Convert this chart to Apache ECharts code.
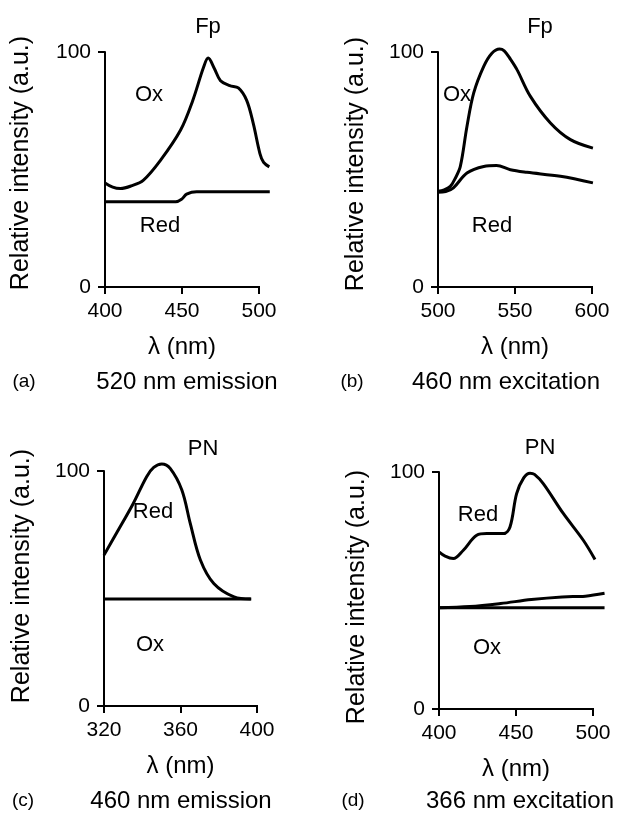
<!DOCTYPE html>
<html><head><meta charset="utf-8">
<script src="https://cdn.jsdelivr.net/npm/echarts@6/dist/echarts.min.js"></script>
<style>html,body{margin:0;padding:0;background:#fff}#c{width:619px;height:823px}</style>
</head><body><div id="c"></div>
<script>
// Panel (a): Fp, 520 nm emission
const aOx = [[400,44.3],[405,42.5],[410,41.9],[417,43],[425,45.5],[436,53.9],[449,66.7],[457,79.4],[464,93.5],[467,97.4],[471,93],[475,87.8],[481,85.7],[486.6,84.7],[492,79.4],[496.3,69.5],[500.6,56.8],[503,53],[506.7,51.1]];
const aRed = [[400,36.3],[446,36.3],[450,37.5],[453,39.5],[459.5,40.5],[507,40.5]];
// Panel (b): Fp, 460 nm excitation
const bOx = [[500,40.7],[504,41.3],[508,42.8],[511,46],[514.5,51.3],[518.8,68.3],[523.2,82.6],[529.7,93.9],[535,99.5],[540,101.3],[543,100.5],[547,97],[551.3,92.5],[560,81.1],[573,69.8],[586,62.7],[600.6,59.1]];
const bRed = [[500,40.3],[505,40.6],[510,42.2],[518.8,48.5],[529.7,51.3],[538,51.7],[547,49.9],[557.8,48.8],[579.5,47.1],[600.6,44.3]];
// Panel (c): PN, 460 nm emission
const cRed = [[320,64.2],[326.5,73.5],[335.3,86.2],[342.3,97.6],[346,101.5],[350.2,103],[354.6,101.1],[360.7,91.9],[365.1,77.7],[370.4,62.1],[377.4,52.1],[388,46.4],[396.7,45.5]];
const cOx = [[320,45.5],[397,45.5]];
// Panel (d): PN, 366 nm excitation
const dRed = [[400,66.3],[404,64.5],[409.3,63.5],[415.8,67],[424.5,73.3],[431,74],[441.8,74],[446.1,76.8],[450.4,90.9],[455,97.5],[459.1,99.5],[462,99],[467.7,95.1],[480.7,82.5],[493.7,71.2],[501.3,63.1]];
const dOx = [[400,42.7],[507.5,42.7]];
const dOx2 = [[400,42.7],[420,43.2],[440,44.5],[460,46.2],[480,47.3],[495,47.6],[507.5,48.8]];

// x tick values per panel, and the data extent each x axis must cover
const xTicks = [[400,450,500],[500,550,600],[320,360,400],[400,450,500]];
const xDataMax = [508,601,400,508];
const yTicks = [0,100];
const titles = ['Fp','Fp','PN','PN'];
const letters = ['(a)','(b)','(c)','(d)'];
const captions = ['520 nm emission','460 nm excitation','460 nm emission','366 nm excitation'];
const xName = 'λ (nm)';
const yName = 'Relative intensity (a.u.)';

const FONT = '"Liberation Sans", Arial, Helvetica, sans-serif';
// plot frames: left edge, top, pixel width of the tick span, height
const frames = [
  {left:105, top:52, span:154, height:235},
  {left:438, top:52, span:154, height:235},
  {left:104, top:471, span:153, height:235},
  {left:439, top:472, span:154, height:237}
];
const grids = frames.map((f,i)=>{
  const t = xTicks[i];
  const range = t[t.length-1]-t[0];
  return {left:f.left, top:f.top, height:f.height, width:f.span*(xDataMax[i]-t[0])/range};
});
const lbl = {color:'#000', fontFamily:FONT, fontSize:21, margin:14};
const xAxes = xTicks.map((t,i)=>({
  type:'value', gridIndex:i, min:t[0], max:xDataMax[i],
  axisLine:{show:false},
  axisTick:{show:true, length:7, lineStyle:{color:'#000', width:2}, customValues:t},
  axisLabel:Object.assign({customValues:t}, lbl),
  splitLine:{show:false},
  name:xName, nameLocation:'middle', nameGap:48,
  nameTextStyle:{color:'#000', fontFamily:FONT, fontSize:24}
}));
// x name centred on the tick span, not on the widened grid
xAxes.forEach((a,i)=>{
  const g = grids[i], f = frames[i];
  const shift = (g.width - f.span)/2;
  a.nameTextStyle.padding = [0, 2*shift, 0, 0];
});
const yAxes = frames.map((f,i)=>({
  type:'value', gridIndex:i, min:yTicks[0], max:yTicks[1], interval:100,
  axisLine:{show:true, lineStyle:{color:'#000', width:2}},
  axisTick:{show:true, length:7, lineStyle:{color:'#000', width:2}},
  axisLabel:lbl,
  splitLine:{show:false}
}));
function ln(data, i){
  return {type:'line', xAxisIndex:i, yAxisIndex:i, data:data, smooth:0.35, clip:false,
    symbol:'none', lineStyle:{color:'#000', width:3}, silent:true, animation:false};
}
const series = [ln(aOx,0), ln(aRed,0), ln(bOx,1), ln(bRed,1), ln(cRed,2), ln(cOx,2), ln(dRed,3), ln(dOx,3), ln(dOx2,3)];

function txt(x,y,t,size,rot){
  return {type:'text', x:x, y:y, rotation:rot||0,
    style:{text:t, fill:'#000', font:size+'px '+FONT, textAlign:'center', textVerticalAlign:'middle'}};
}
const titlePos = [[208,27],[540,27],[203,449],[540,448]];
const capPos = [[187,382],[506,382],[181,801],[520,801]];
const letterPos = [[24,382],[352,382],[23,801],[353,801]];
const yNamePos = [[21,163],[356,164],[22,576],[357,597]];
const graphics = [];
for (let i=0;i<4;i++){
  graphics.push(txt(titlePos[i][0], titlePos[i][1], titles[i], 22));
  graphics.push(txt(capPos[i][0], capPos[i][1], captions[i], 24));
  graphics.push(txt(letterPos[i][0], letterPos[i][1], letters[i], 19));
  graphics.push(txt(yNamePos[i][0], yNamePos[i][1], yName, 25, Math.PI/2));
}
// curve labels
graphics.push(txt(149,95,'Ox',22));
graphics.push(txt(160,226,'Red',22));
graphics.push(txt(457,95,'Ox',22));
graphics.push(txt(492,226,'Red',22));
graphics.push(txt(153,512,'Red',22));
graphics.push(txt(150,645,'Ox',22));
graphics.push(txt(478,515,'Red',22));
graphics.push(txt(487,648,'Ox',22));

const chart = echarts.init(document.getElementById('c'), null, {renderer:'canvas'});
chart.setOption({
  animation:false,
  backgroundColor:'#fff',
  grid:grids,
  xAxis:xAxes,
  yAxis:yAxes,
  series:series,
  graphic:graphics
});
// x axis lines over the tick span only (the curves run a little past it)
xTicks.forEach((t,i)=>{
  const p0 = chart.convertToPixel({gridIndex:i}, [t[0], yTicks[0]]);
  const p1 = chart.convertToPixel({gridIndex:i}, [t[t.length-1], yTicks[0]]);
  graphics.push({type:'line', shape:{x1:p0[0]-1, y1:p0[1], x2:p1[0]+1, y2:p1[1]},
    style:{stroke:'#000', lineWidth:2}, z:10});
});
chart.setOption({graphic:graphics});
</script></body></html>
